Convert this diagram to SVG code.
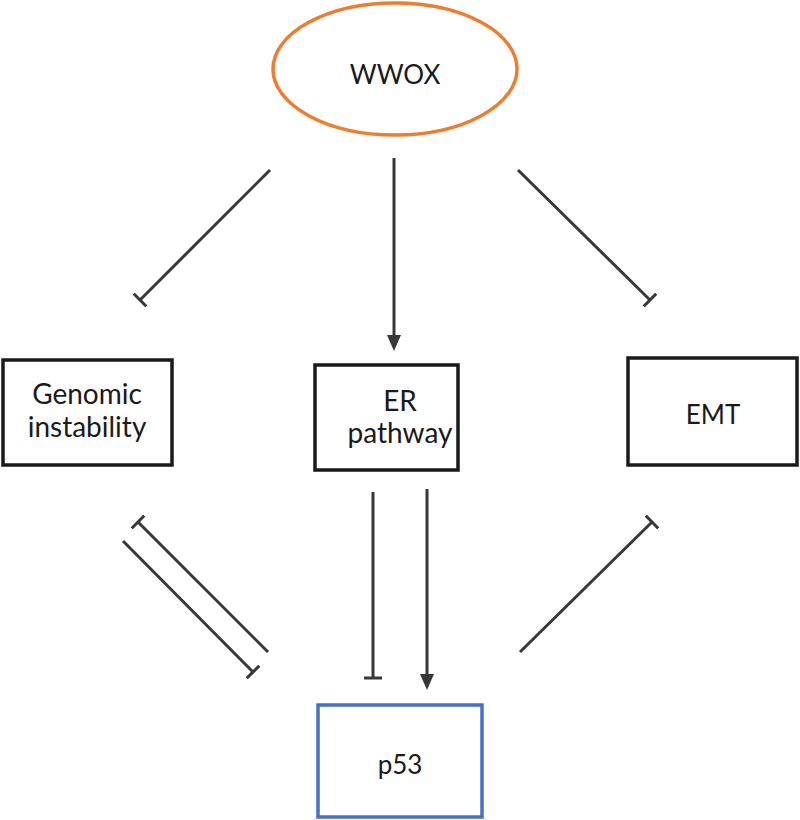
<svg xmlns="http://www.w3.org/2000/svg" width="800" height="820" viewBox="0 0 800 820">
<style>
.box{fill:#fff;stroke:#1a1a1a;stroke-width:3.5}
.lbl{font-family:Lato,"Open Sans","Liberation Sans",sans-serif;font-size:28px;fill:#1a1a1a;text-anchor:middle}
.c{stroke:#383838;stroke-width:3;fill:none}
</style>
<defs>
<marker id="tee" viewBox="0 0 4 18" refX="2" refY="9" markerWidth="4" markerHeight="18" markerUnits="userSpaceOnUse" orient="auto">
<path d="M2,0 V18" stroke="#383838" stroke-width="3"/>
</marker>
<marker id="arr" viewBox="0 0 16 14" refX="8" refY="7" markerWidth="16" markerHeight="14" markerUnits="userSpaceOnUse" orient="auto">
<path d="M0,0 L16,7 L0,14 z" fill="#383838"/>
</marker>
</defs>
<rect width="800" height="820" fill="#fff"/>
<g id="connectors">
<line class="c" x1="270" y1="170" x2="140" y2="300" marker-end="url(#tee)"/>
<line class="c" x1="394" y1="158" x2="394" y2="343" marker-end="url(#arr)"/>
<line class="c" x1="518" y1="170" x2="650" y2="300" marker-end="url(#tee)"/>
<line class="c" x1="268" y1="652" x2="138" y2="522" marker-end="url(#tee)"/>
<line class="c" x1="123" y1="541" x2="253" y2="672" marker-end="url(#tee)"/>
<line class="c" x1="373" y1="492" x2="373" y2="678" marker-end="url(#tee)"/>
<line class="c" x1="427" y1="489" x2="427" y2="682" marker-end="url(#arr)"/>
<line class="c" x1="520" y1="652" x2="652" y2="522" marker-end="url(#tee)"/>
</g>
<g id="wwox">
<ellipse cx="395" cy="69" rx="122" ry="66" fill="#fff" stroke="#ED7D31" stroke-width="3.5"/>
<text class="lbl" x="395" y="84" style="font-size:26px">WWOX</text>
</g>
<g id="genomic">
<rect class="box" x="3" y="360" width="169" height="105"/>
<text class="lbl" x="87" y="404">Genomic</text>
<text class="lbl" x="87" y="437">instability</text>
</g>
<g id="er">
<rect class="box" x="315" y="365" width="143" height="105"/>
<text class="lbl" x="400" y="411">ER</text>
<text class="lbl" x="400" y="443">pathway</text>
</g>
<g id="emt">
<rect class="box" x="628" y="358" width="169" height="107"/>
<text class="lbl" x="713" y="424" style="font-size:26px">EMT</text>
</g>
<g id="p53">
<rect x="318" y="705" width="164" height="112" fill="#fff" stroke="#4472C4" stroke-width="3.5"/>
<text class="lbl" x="400" y="774" style="font-size:26px">p53</text>
</g>
</svg>
